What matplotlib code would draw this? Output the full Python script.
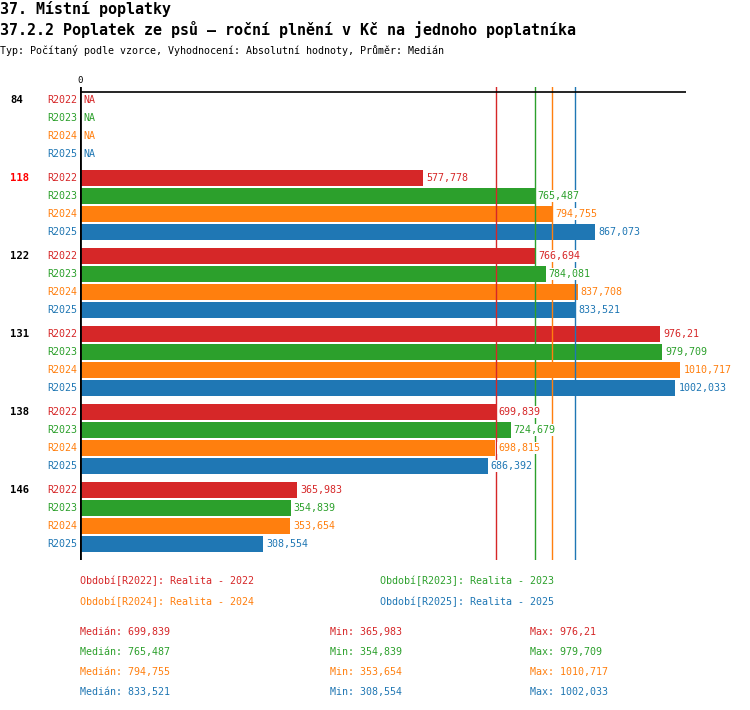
import numpy as np
import matplotlib
matplotlib.use("Agg")
import matplotlib.pyplot as plt
from matplotlib.transforms import blended_transform_factory

plt.rcParams["font.family"] = ["DejaVu Sans Mono"]

groups = ["84", "118", "122", "131", "138", "146"]
highlight = "118"
periods = ["R2022", "R2023", "R2024", "R2025"]
period_names = ["Realita - 2022", "Realita - 2023", "Realita - 2024", "Realita - 2025"]
colors = ["#d62728", "#2ca02c", "#ff7f0e", "#1f77b4"]

r2022 = [np.nan, 577.778, 766.694, 976.21, 699.839, 365.983]
r2023 = [np.nan, 765.487, 784.081, 979.709, 724.679, 354.839]
r2024 = [np.nan, 794.755, 837.708, 1010.717, 698.815, 353.654]
r2025 = [np.nan, 867.073, 833.521, 1002.033, 686.392, 308.554]
series = [r2022, r2023, r2024, r2025]

W, H = 750, 710


def fx(px):
    return px / W


def fy(py):
    return 1 - py / H


def fmt(v):
    s = f"{v:.3f}".rstrip("0").rstrip(".")
    return s.replace(".", ",")


fig = plt.figure(figsize=(7.5, 7.1), dpi=100)
ax = fig.add_axes([fx(80), fy(560), fx(686) - fx(80), (560 - 87) / H])
ax.set_xlim(0, 1020)
group_step = 78 / 18
ax.set_ylim(25.556, -0.722)
ax.axis("off")

lab = blended_transform_factory(fig.transFigure, ax.transData)
white = dict(facecolor="white", edgecolor="none", pad=0.5)

for g, name in enumerate(groups):
    y0 = g * group_step
    ax.text(fx(10), y0, name, transform=lab, ha="left", va="center",
            fontsize=7.6, fontweight="bold",
            color="#ff0000" if name == highlight else "black")
    for r, (p, vals, c) in enumerate(zip(periods, series, colors)):
        y = y0 + r
        v = vals[g]
        ax.annotate(p, (0, y), xytext=(-3, 0), textcoords="offset pixels",
                    ha="right", va="center", fontsize=7.2, color=c)
        if np.isnan(v):
            ax.annotate("NA", (0, y), xytext=(3, 0), textcoords="offset pixels",
                        ha="left", va="center", fontsize=7.2, color=c)
        else:
            ax.barh(y, v, height=16 / 18, color=c, zorder=2)
            ax.annotate(fmt(v), (v, y), xytext=(3, 0), textcoords="offset pixels",
                        ha="left", va="center", fontsize=7.2, color=c, zorder=4,
                        bbox=white)

medians = [np.nanmedian(s) for s in series]
mins = [np.nanmin(s) for s in series]
maxs = [np.nanmax(s) for s in series]

for m, c in zip(medians, colors):
    ax.axvline(m, color=c, lw=1, zorder=3)

ax.axhline(-8 / 18, color="black", lw=1.2, zorder=3)
ax.axvline(0, color="black", lw=2, zorder=5)
ax.annotate("0", (0, -0.722), xytext=(0, 2), textcoords="offset pixels",
            ha="center", va="bottom", fontsize=6.5)

fig.text(0, fy(9), "37. Místní poplatky", fontsize=10.8, fontweight="bold",
         ha="left", va="center")
fig.text(0, fy(30), "37.2.2 Poplatek ze psů – roční plnění v Kč na jednoho poplatníka",
         fontsize=10.8, fontweight="bold", ha="left", va="center")
fig.text(0, fy(50), "Typ: Počítaný podle vzorce, Vyhodnocení: Absolutní hodnoty, Průměr: Medián",
         fontsize=7.2, ha="left", va="center")

leg_pos = [(80, 581), (380, 581), (80, 602), (380, 602)]
for (x, y), p, n, c in zip(leg_pos, periods, period_names, colors):
    fig.text(fx(x), fy(y), f"Období[{p}]: {n}", fontsize=7.2, color=c,
             ha="left", va="center")

for i, c in enumerate(colors):
    y = 632 + i * 20
    fig.text(fx(80), fy(y), f"Medián: {fmt(medians[i])}", fontsize=7.2, color=c,
             ha="left", va="center")
    fig.text(fx(330), fy(y), f"Min: {fmt(mins[i])}", fontsize=7.2, color=c,
             ha="left", va="center")
    fig.text(fx(530), fy(y), f"Max: {fmt(maxs[i])}", fontsize=7.2, color=c,
             ha="left", va="center")

fig.savefig("out.png", dpi=100)
